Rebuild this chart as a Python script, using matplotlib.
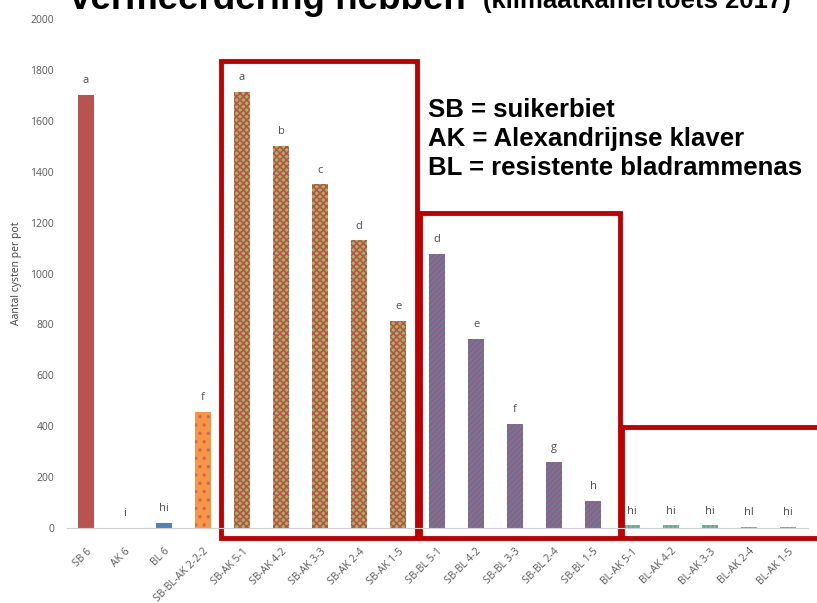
import matplotlib
matplotlib.use('Agg')
import matplotlib.pyplot as plt
from matplotlib.patches import Rectangle
import numpy as np

categories = ["SB 6", "AK 6", "BL 6", "SB-BL-AK 2-2-2",
              "SB-AK 5-1", "SB-AK 4-2", "SB-AK 3-3", "SB-AK 2-4", "SB-AK 1-5",
              "SB-BL 5-1", "SB-BL 4-2", "SB-BL 3-3", "SB-BL 2-4", "SB-BL 1-5",
              "BL-AK 5-1", "BL-AK 4-2", "BL-AK 3-3", "BL-AK 2-4", "BL-AK 1-5"]
values = [1700, 0, 20, 455,
          1715, 1500, 1350, 1130, 813,
          1078, 743, 410, 258, 106,
          10, 10, 10, 5, 5]
letters = ["a", "i", "hi", "f",
           "a", "b", "c", "d", "e",
           "d", "e", "f", "g", "h",
           "hi", "hi", "hi", "hl", "hi"]
yticks = [0, 200, 400, 600, 800, 1000, 1200, 1400, 1600, 1800, 2000]

# style per bar: facecolor, hatch colour, hatch
styles = ([("#B85450", None, None), ("#4F81BD", None, None), ("#4F81BD", None, None),
           ("#F79646", "#D9644A", "..")]
          + [("#9BBB59", "#C0504D", "xxxxx")] * 5
          + [("#4F81BD", "#C0504D", "//////")] * 5
          + [("#4BACC6", "#9BBB59", "||||")] * 5)

plt.rcParams['hatch.linewidth'] = 1.2

fig = plt.figure(figsize=(8.17, 6.03), dpi=100)
ax = fig.add_axes([66.5 / 817, 75 / 603, 741 / 817, 509 / 603])

x = np.arange(len(categories))
for xi, v, (fc, hc, h) in zip(x, values, styles):
    ax.bar(xi, v, width=0.42, color=fc, edgecolor=hc if hc else fc,
           hatch=h, linewidth=0)
for xi, v, lab in zip(x, values, letters):
    ax.text(xi, v + 35, lab, ha='center', va='bottom', fontsize=8,
            color='#505050', family='Open Sans')

ax.set_xlim(-0.5, len(categories) - 0.5)
ax.set_ylim(0, 2000)
ax.set_yticks(yticks)
ax.set_yticklabels([str(t) for t in yticks], fontsize=7.5, color='#595959',
                   family='Open Sans')
ax.set_xticks(x)
ax.set_xticklabels(categories, rotation=45, ha='right', va='top',
                   rotation_mode='anchor', fontsize=7.5, color='#595959',
                   family='Open Sans')
ax.tick_params(length=0, pad=9)
ax.tick_params(axis='x', pad=13)
for s in ['top', 'right', 'left']:
    ax.spines[s].set_visible(False)
ax.spines['bottom'].set_color('#D0D0D0')
ax.set_ylabel("Aantal cysten per pot", fontsize=7.5, color='#404040',
              family='Open Sans', labelpad=6)

# red group boxes
red = '#C00000'
for x0, x1, ytop in [(3.46, 8.49, 1835), (8.56, 13.69, 1238), (13.74, 19.5, 397)]:
    ax.add_patch(Rectangle((x0, -40), x1 - x0, ytop + 40, fill=False,
                           edgecolor=red, linewidth=3.5, clip_on=False))

fig.text(70 / 817, 1 - 9 / 603, "vermeerdering hebben", fontsize=26.5,
         fontweight='bold', family='Liberation Sans', va='baseline')
fig.text(483 / 817, 1 - 8 / 603, "(klimaatkamertoets 2017)", fontsize=18.5,
         fontweight='bold', family='Liberation Sans', va='baseline')

for i, t in enumerate(["SB = suikerbiet", "AK = Alexandrijnse klaver",
                       "BL = resistente bladrammenas"]):
    fig.text(428 / 817, 1 - (117 + 29 * i) / 603, t, fontsize=18.5,
             fontweight='bold', family='Liberation Sans', va='baseline')

fig.savefig("out.png", dpi=100)
